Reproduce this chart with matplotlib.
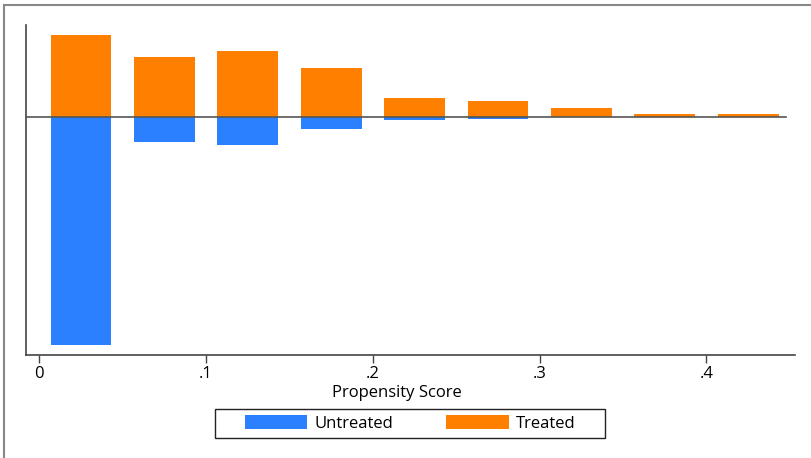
import matplotlib
matplotlib.use("Agg")
import matplotlib.pyplot as plt
from matplotlib.patches import Rectangle, Patch
import numpy as np

plt.rcParams["font.family"] = ["Open Sans", "DejaVu Sans"]

# Propensity score bins (left edges, width 0.05) and frequencies
bin_left = [0.00, 0.05, 0.10, 0.15, 0.20, 0.25, 0.30, 0.35, 0.40]
treated = [82, 60, 66, 48.5, 18.5, 15.5, 9, 3, 3]
untreated = [228, 25, 28, 12, 3.5, 2.5, 0, 0, 0]
tick_vals = [0, 0.1, 0.2, 0.3, 0.4]
tick_labels = ["0", ".1", ".2", ".3", ".4"]

blue = "#2a80ff"
orange = "#ff8000"
fs = 12

W, H = 811, 458
fig = plt.figure(figsize=(W / 100, H / 100), dpi=100)
ax = fig.add_axes([26 / W, 1 - 355 / H, (795 - 26) / W, (355 - 25) / H])

bin_w = 0.05
bar_w = 0.0365
centers = np.array(bin_left) + bin_w / 2
ax.bar(centers, treated, width=bar_w, color=orange, edgecolor="none", zorder=2)
ax.bar(centers, -np.array(untreated), width=bar_w, color=blue, edgecolor="none", zorder=2)

x0, x1 = -0.008, 0.4531
ax.set_xlim(x0, x1)
ax.set_ylim(-238.3, 91.7)
ax.plot([x0, 0.448], [0, 0], color="#555555", lw=1.2, zorder=3)

for s in ["top", "right"]:
    ax.spines[s].set_visible(False)
for s in ["left", "bottom"]:
    ax.spines[s].set_color("#444444")
    ax.spines[s].set_linewidth(1.2)

ax.set_yticks([])
ax.set_xticks(tick_vals)
ax.set_xticklabels(tick_labels, fontsize=fs)
ax.tick_params(axis="x", length=6, width=1, color="#444444", pad=2)
ax.set_xlabel("Propensity Score", fontsize=fs)
ax.xaxis.set_label_coords((397 - 26) / (795 - 26), -(393 - 355) / (355 - 25),
                          transform=ax.transAxes)
ax.xaxis.label.set_verticalalignment("center")

handles = [Patch(facecolor=blue, edgecolor="none", label="Untreated"),
           Patch(facecolor=orange, edgecolor="none", label="Treated")]
leg = fig.legend(handles=handles, ncol=2, loc="center",
                 bbox_to_anchor=(410 / W, 1 - 423.5 / H), fontsize=fs,
                 frameon=False, handlelength=3.75, handleheight=0.95,
                 columnspacing=3.2, borderpad=0.3, handletextpad=0.4)

# Legend frame
fig.patches.append(Rectangle((215 / W, 1 - 437.7 / H), (605 - 215) / W,
                             (437.7 - 409.3) / H, transform=fig.transFigure,
                             fill=False, edgecolor="#222222", lw=1.0))

# Outer border of the graph region
fig.patches.append(Rectangle((4 / W, -0.5), 2.0, 1.5 - 4.5 / H,
                             transform=fig.transFigure, fill=False,
                             edgecolor="#888888", lw=1.5))

fig.savefig("out.png", dpi=100)
